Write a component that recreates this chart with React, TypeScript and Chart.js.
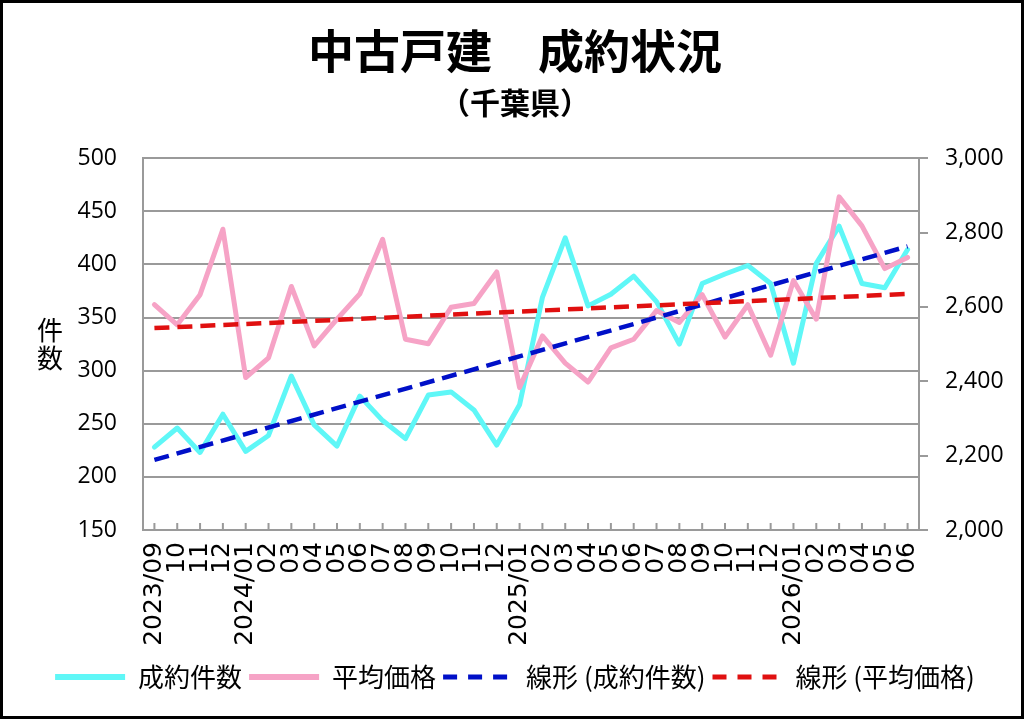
import { useEffect, useRef } from 'react';
import { Chart, registerables } from 'chart.js';

Chart.register(...registerables);

// ---- data ----
const MONTHS = [
  '2023/09', '10', '11', '12',
  '2024/01', '02', '03', '04', '05', '06', '07', '08', '09', '10', '11', '12',
  '2025/01', '02', '03', '04', '05', '06', '07', '08', '09', '10', '11', '12',
  '2026/01', '02', '03', '04', '05', '06',
];

// 成約件数 (left axis)
const COUNTS = [
  228, 246, 223, 259, 224, 239, 295, 249, 229, 276, 253, 236,
  277, 280, 263, 230, 268, 369, 425, 361, 372, 389, 365, 325,
  382, 391, 399, 382, 307, 401, 436, 382, 378, 414,
];

// 平均価格 (right axis)
const PRICES = [
  2606, 2552, 2633, 2809, 2410, 2463, 2655, 2495, 2567, 2635, 2782, 2513,
  2501, 2599, 2609, 2694, 2383, 2522, 2449, 2398, 2490, 2513, 2590, 2558,
  2633, 2519, 2606, 2470, 2671, 2567, 2896, 2818, 2703, 2733,
];

// linear trend lines: value at first and last month
const COUNT_TREND_ENDS = [216, 417];
const PRICE_TREND_ENDS = [2543, 2635];

const LEFT_TICKS = [150, 200, 250, 300, 350, 400, 450, 500];
const RIGHT_TICKS = [2000, 2200, 2400, 2600, 2800, 3000];

const TITLE = '中古戸建　成約状況';
const SUBTITLE = '（千葉県）';
const Y_TITLE = ['件', '数'];
const SERIES_LABELS = ['成約件数', '平均価格', '線形 (成約件数)', '線形 (平均価格)'];

const trendSeries = (ends: number[]) =>
  MONTHS.map((_, i) => (i === 0 ? ends[0] : i === MONTHS.length - 1 ? ends[1] : null));

const GRID = '#9a9a9a';
const CJK = '"Noto Sans CJK JP", "Noto Sans", sans-serif';

const framePlugin = {
  id: 'frame',
  beforeDraw(chart: any) {
    const { ctx, width, height } = chart;
    ctx.save();
    ctx.fillStyle = '#ffffff';
    ctx.fillRect(0, 0, width, height);
    ctx.restore();
  },
  afterDraw(chart: any) {
    const { ctx, width, height, chartArea } = chart;
    ctx.save();
    ctx.strokeStyle = '#000';
    ctx.lineWidth = 3;
    ctx.strokeRect(1.5, 1.5, width - 3, height - 3);
    // vertical stacked axis title
    ctx.fillStyle = '#000';
    ctx.font = `26px ${CJK}`;
    ctx.textAlign = 'center';
    ctx.textBaseline = 'middle';
    const cx = chartArea.left - 93;
    const cy = (chartArea.top + chartArea.bottom) / 2;
    ctx.fillText(Y_TITLE[0], cx, cy - 14);
    ctx.fillText(Y_TITLE[1], cx, cy + 14);
    ctx.restore();
  },
  beforeDatasetsDraw(chart: any) {
    const { ctx, chartArea } = chart;
    const xs = chart.scales.x;
    ctx.save();
    ctx.strokeStyle = GRID;
    ctx.lineWidth = 2;
    ctx.beginPath();
    for (let i = 0; i < xs.ticks.length; i++) {
      const x = xs.getPixelForTick(i);
      ctx.moveTo(x, chartArea.bottom);
      ctx.lineTo(x, chartArea.bottom - 7);
    }
    ctx.stroke();
    ctx.restore();
  },
};

export default function App() {
  const ref = useRef<HTMLCanvasElement | null>(null);

  useEffect(() => {
    document.body.style.margin = '0';
    if (!ref.current) return;
    Chart.defaults.font.family = CJK;
    const chart = new Chart(ref.current, {
      type: 'line',
      data: {
        labels: MONTHS,
        datasets: [
          {
            label: SERIES_LABELS[0],
            data: COUNTS,
            yAxisID: 'y',
            borderColor: '#5ff7f7',
            backgroundColor: '#5ff7f7',
            borderWidth: 5,
            pointRadius: 0,
            tension: 0,
            borderJoinStyle: 'round',
            borderCapStyle: 'round',
            order: 4,
          },
          {
            label: SERIES_LABELS[1],
            data: PRICES,
            yAxisID: 'y1',
            borderColor: '#f6a3c6',
            backgroundColor: '#f6a3c6',
            borderWidth: 5,
            pointRadius: 0,
            tension: 0,
            borderJoinStyle: 'round',
            borderCapStyle: 'round',
            order: 3,
          },
          {
            label: SERIES_LABELS[2],
            data: trendSeries(COUNT_TREND_ENDS),
            yAxisID: 'y',
            borderColor: '#0010c8',
            backgroundColor: '#0010c8',
            borderWidth: 4.5,
            borderDash: [15, 8],
            pointRadius: 0,
            spanGaps: true,
            order: 2,
          },
          {
            label: SERIES_LABELS[3],
            data: trendSeries(PRICE_TREND_ENDS),
            yAxisID: 'y1',
            borderColor: '#e01010',
            backgroundColor: '#e01010',
            borderWidth: 4.5,
            borderDash: [15, 8],
            pointRadius: 0,
            spanGaps: true,
            order: 1,
          },
        ],
      },
      options: {
        responsive: false,
        animation: false,
        events: [],
        layout: { padding: { left: 6, right: 0, top: 0, bottom: 19 } },
        plugins: {
          title: {
            display: true,
            text: TITLE,
            color: '#000',
            font: { family: CJK, size: 46, weight: 'bold' },
            padding: { top: 23, bottom: 0 },
          },
          subtitle: {
            display: true,
            text: SUBTITLE,
            color: '#000',
            font: { family: CJK, size: 30, weight: 'bold' },
            padding: { top: 6, bottom: 38 },
          },
          legend: {
            position: 'bottom',
            labels: {
              color: '#000',
              font: { family: CJK, size: 26 },
              usePointStyle: true,
              pointStyle: 'line',
              pointStyleWidth: 70,
              padding: 7,
              sort: (a: any, b: any) => a.datasetIndex - b.datasetIndex,
              generateLabels: (c: any) => {
                const items = Chart.defaults.plugins.legend.labels.generateLabels(c);
                return items.map((it: any) => {
                  const ds = c.data.datasets[it.datasetIndex];
                  return {
                    ...it,
                    pointStyle: 'line',
                    strokeStyle: ds.borderColor,
                    fillStyle: ds.borderColor,
                    lineWidth: ds.borderDash ? 5 : 6,
                    lineDash: ds.borderDash ? [14, 11] : [],
                    lineCap: 'butt',
                  };
                });
              },
            },
          },
          tooltip: { enabled: false },
        },
        scales: {
          x: {
            offset: true,
            grid: { display: false },
            border: { display: true, color: GRID, width: 2 },
            ticks: {
              color: '#000',
              autoSkip: false,
              minRotation: 90,
              maxRotation: 90,
              padding: 4,
              font: { family: '"DejaVu Sans", sans-serif', size: 25 },
            },
            afterFit: (s: any) => { s.height = 127; },
          },
          y: {
            position: 'left',
            min: LEFT_TICKS[0],
            max: LEFT_TICKS[LEFT_TICKS.length - 1],
            ticks: {
              stepSize: LEFT_TICKS[1] - LEFT_TICKS[0],
              color: '#000',
              padding: 26,
              font: { family: '"Open Sans", sans-serif', size: 23 },
            },
            grid: { color: GRID, lineWidth: 2, drawTicks: false },
            border: { display: true, color: GRID, width: 2 },
            afterFit: (s: any) => { s.width = 137; },
          },
          y1: {
            position: 'right',
            min: RIGHT_TICKS[0],
            max: RIGHT_TICKS[RIGHT_TICKS.length - 1],
            ticks: {
              stepSize: RIGHT_TICKS[1] - RIGHT_TICKS[0],
              color: '#000',
              padding: 17,
              font: { family: '"Open Sans", sans-serif', size: 23 },
              callback: (v: any) => Number(v).toLocaleString('en-US'),
            },
            grid: { drawOnChartArea: false, drawTicks: true, tickLength: 9, color: GRID, lineWidth: 2 },
            border: { display: true, color: GRID, width: 2 },
            afterFit: (s: any) => { s.width = 105; },
          },
        },
      },
      plugins: [framePlugin],
    } as any);
    return () => chart.destroy();
  }, []);

  return (
    <div style={{ position: 'absolute', left: 0, top: 0, width: 1024, height: 719 }}>
      <canvas ref={ref} width={1024} height={719} style={{ display: 'block' }} />
    </div>
  );
}
